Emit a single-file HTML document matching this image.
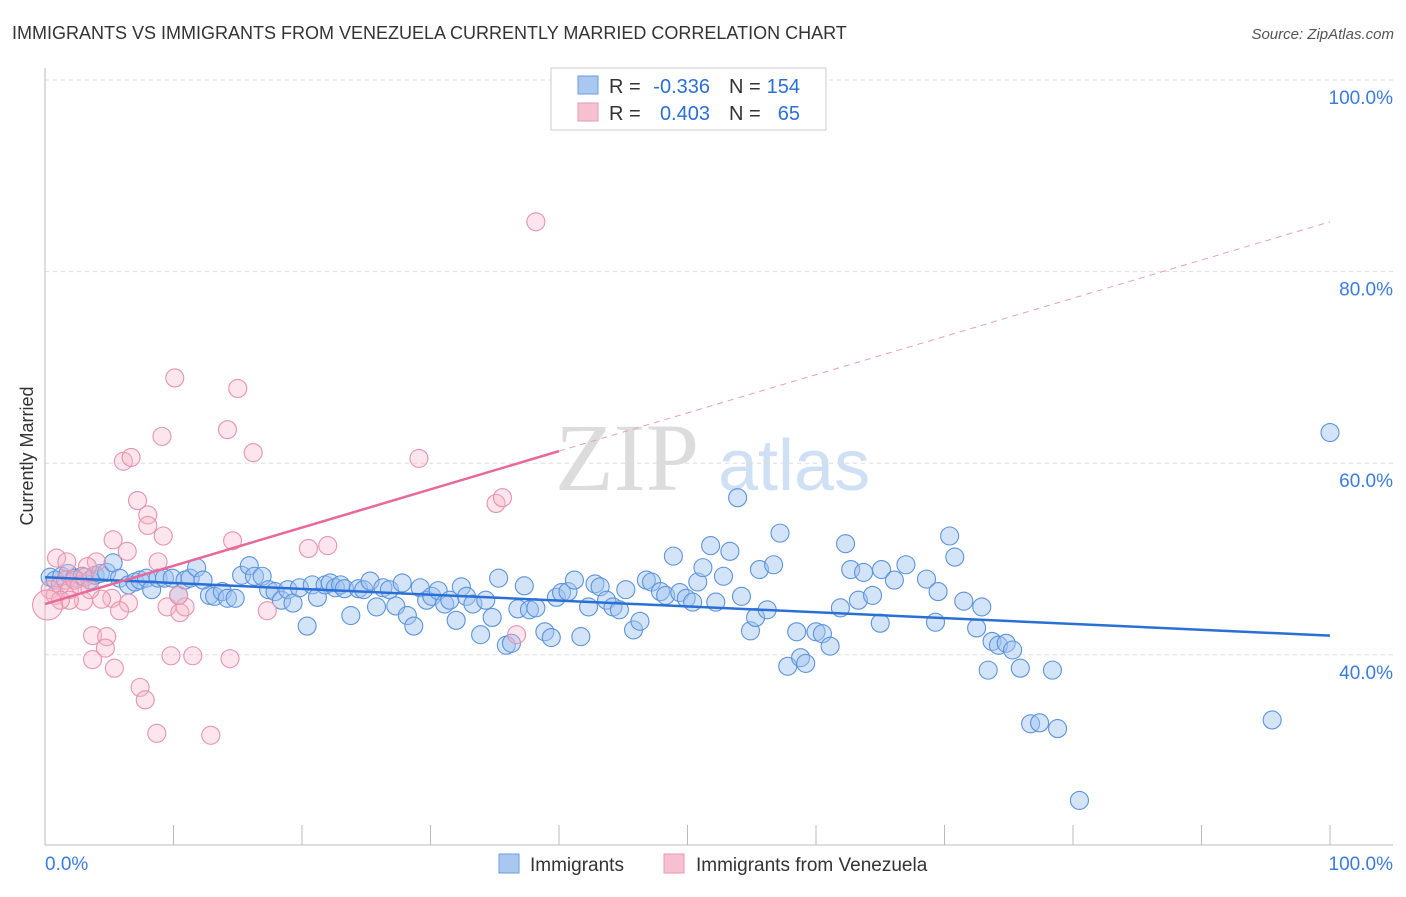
<!DOCTYPE html>
<html><head><meta charset="utf-8"><style>
body{margin:0;background:#fff;font-family:"Liberation Sans",sans-serif;}
</style></head><body>
<svg id="c" width="1406" height="892" xmlns="http://www.w3.org/2000/svg" font-family="Liberation Sans, sans-serif">
<text x="12" y="39" font-size="18" fill="#333">IMMIGRANTS VS IMMIGRANTS FROM VENEZUELA CURRENTLY MARRIED CORRELATION CHART</text>
<text x="1394" y="39" font-size="15" fill="#555" text-anchor="end" font-style="italic">Source: ZipAtlas.com</text>
<text transform="translate(33,456) rotate(-90)" font-size="18" fill="#333" text-anchor="middle">Currently Married</text>
<g>
<text x="555" y="490" font-size="96" font-family="Liberation Serif, serif" fill="#dcdcdc">ZIP</text>
<text x="718" y="490" font-size="72" fill="#cfe0f5">atlas</text>
</g>
<g id="grid"></g><g id="marks"></g><g id="lines"></g>
<g font-size="20">
<rect x="551" y="68" width="275" height="62" fill="#fff" stroke="#ccc"/>
<rect x="578" y="76" width="20" height="18" fill="#a9c8f0" stroke="#6a9de0"/>
<rect x="578" y="103" width="20" height="18" fill="#f7c0d0" stroke="#e89ab0"/>
<text x="609" y="93" fill="#333">R =</text>
<text x="710" y="93" fill="#2a6fd6" text-anchor="end">-0.336</text>
<text x="729" y="93" fill="#333">N =</text>
<text x="800" y="93" fill="#2a6fd6" text-anchor="end">154</text>
<text x="609" y="120" fill="#333">R =</text>
<text x="710" y="120" fill="#2a6fd6" text-anchor="end">0.403</text>
<text x="729" y="120" fill="#333">N =</text>
<text x="800" y="120" fill="#2a6fd6" text-anchor="end">65</text>
</g>
<g>
<rect x="499" y="854" width="20" height="19" fill="#a9c8f0" stroke="#6a9de0"/>
<text x="530" y="871" font-size="19" fill="#333">Immigrants</text>
<rect x="664" y="854" width="20" height="19" fill="#f7c0d0" stroke="#e89ab0"/>
<text x="696" y="871" font-size="19" fill="#333">Immigrants from Venezuela</text>
</g>
</svg>
<script>
const yTicks=[40,60,80,100];
const xTickVals=[0,10,20,30,40,50,60,70,80,90,100];
const blueX=[0.4,0.8,1.3,1.8,2.3,2.9,3.5,3.9,4.3,4.8,5.3,5.8,6.5,7.0,7.4,7.9,8.3,8.8,9.3,9.9,10.4,10.9,11.3,11.8,12.3,12.8,13.2,13.8,14.2,14.8,15.3,15.9,16.3,16.9,17.4,17.9,18.4,18.9,19.3,19.8,20.4,20.8,21.2,21.8,22.2,22.6,23.0,23.3,23.8,24.4,24.8,25.3,25.8,26.3,26.8,27.3,27.8,28.2,28.7,29.2,29.7,30.1,30.6,31.1,31.5,32.0,32.4,32.8,33.3,33.9,34.3,34.8,35.3,35.9,36.3,36.8,37.3,37.7,38.2,38.9,39.4,39.8,40.2,40.7,41.2,41.7,42.3,42.8,43.2,43.7,44.2,44.7,45.2,45.8,46.3,46.8,47.2,47.9,48.3,48.9,49.4,49.9,50.4,50.8,51.2,51.8,52.2,52.8,53.3,53.9,54.2,54.9,55.3,55.6,56.2,56.7,57.2,57.8,58.8,59.2,58.5,60.0,60.5,61.1,61.9,62.3,62.7,63.3,63.7,64.4,65.0,65.1,66.1,67.0,68.6,69.3,69.5,70.4,70.8,71.5,72.5,72.9,73.4,73.7,74.2,74.8,75.3,75.9,76.7,77.4,78.4,78.8,80.5,95.5,100];
const blueY=[48.1,47.8,48.2,48.5,48.0,48.2,47.8,48.3,48.5,48.6,49.6,48.0,47.3,47.6,47.8,48.0,46.8,48.0,48.0,48.0,46.2,47.8,48.0,49.1,47.8,46.2,46.1,46.6,45.9,45.9,48.3,49.3,48.2,48.2,46.8,46.6,45.7,46.8,45.4,47.0,43.0,47.3,46.0,47.3,47.5,47.0,47.3,46.9,44.1,46.9,46.8,47.7,45.0,47.0,46.8,45.1,47.5,44.1,43.0,47.0,45.7,46.1,46.7,45.3,45.7,43.6,47.1,46.1,45.3,42.1,45.7,43.9,48.0,41.0,41.2,44.8,47.2,44.7,44.9,42.4,41.8,46.0,46.5,46.6,47.8,41.9,45.0,47.4,47.1,45.7,45.0,44.7,46.8,42.6,43.5,47.8,47.6,46.6,46.2,50.3,46.5,45.9,45.5,47.6,49.1,51.4,45.5,48.2,50.8,56.4,46.1,42.5,43.9,48.9,44.7,49.4,52.7,38.8,39.7,39.1,42.4,42.4,42.2,40.9,44.9,51.6,48.9,45.7,48.6,46.2,43.3,48.9,47.8,49.4,47.9,43.4,46.6,52.4,50.2,45.6,42.8,45.0,38.4,41.4,41.0,41.2,40.5,38.6,32.8,32.9,38.4,32.3,24.8,33.2,63.2];
const pinkX=[10.1,15.0,9.1,14.2,16.2,6.1,6.7,29.1,7.2,8.0,8.0,9.2,35.1,35.6,5.3,6.4,14.6,20.5,22.0,8.8,0.9,1.7,4.0,3.3,5.2,4.4,3.0,6.5,5.8,9.5,10.5,10.9,17.3,3.7,4.8,4.7,3.7,5.4,9.8,11.5,14.4,7.4,7.8,8.7,12.9,36.7,10.4,38.2,0.4,0.8,1.2,1.6,1.9,2.3,2.7,3.1,3.5,1.9,1.2,0.2];
const pinkY=[68.9,67.8,62.8,63.5,61.1,60.2,60.6,60.5,56.1,54.6,53.5,52.4,55.8,56.4,52.0,50.8,51.9,51.1,51.4,49.7,50.1,49.7,49.7,49.2,45.9,45.8,45.6,45.4,44.6,45.0,44.4,45.0,44.6,42.0,41.9,40.7,39.5,38.6,39.9,39.9,39.6,36.6,35.3,31.8,31.6,42.1,46.2,85.2,46.8,46.2,47.3,47.8,46.8,47.8,47.3,48.1,46.8,45.7,45.7,45.2];
const blueTrend=[48.1,42.0];
const pinkTrend=[45.3,85.2];
const pinkSolidEnd=40;
const NS='http://www.w3.org/2000/svg';
const X=v=>45+v*12.85, Y=v=>1038-v*9.58;
function mk(t,a,p){const e=document.createElementNS(NS,t);for(const k in a)e.setAttribute(k,a[k]);p.appendChild(e);return e;}
const grid=document.getElementById('grid'),marks=document.getElementById('marks'),lines=document.getElementById('lines');
yTicks.forEach(t=>{
 const l=mk('line',{x1:45,x2:1393,y1:Y(t),y2:Y(t),stroke:'#ddd','stroke-dasharray':'4,4'},grid);
 
 
 const tx=mk('text',{x:1393,y:Y(t)+24,'font-size':19,fill:'#3a7be0','text-anchor':'end'},grid);
 tx.textContent=t.toFixed(1)+'%';
 
 
});
const ax=mk('line',{x1:45,x2:45,y1:68,y2:845,stroke:'#bbb'},grid);


const bx=mk('line',{x1:45,x2:1393,y1:845,y2:845,stroke:'#bbb'},grid);


xTickVals.forEach(t=>{
 const l=mk('line',{x1:X(t),x2:X(t),y1:825,y2:845,stroke:'#bbb'},grid);
 
 
});
[[0,'start',45],[100,'end',1393]].forEach(([v,a,x])=>{
 const tx=mk('text',{x:x,y:870,'font-size':19,fill:'#3a7be0','text-anchor':a},grid);
 tx.textContent=v.toFixed(1)+'%';
 
 
});
blueX.forEach((v,i)=>{
 const c=mk('circle',{cx:X(v),cy:Y(blueY[i]),r:9,fill:'rgba(160,196,240,0.45)',stroke:'#5b93dd','stroke-width':1.1},marks);
 
 
});
pinkX.forEach((v,i)=>{
 const c=mk('circle',{cx:X(v),cy:Y(pinkY[i]),r:(i==pinkX.length-1?15:9),fill:'rgba(245,180,200,0.35)',stroke:'#e693ad','stroke-width':1.1},marks);
 
 
});
const bl=mk('line',{x1:X(0),y1:Y(blueTrend[0]),x2:X(100),y2:Y(blueTrend[1]),stroke:'#2a6fd6','stroke-width':2.5},lines);


const py=v=>pinkTrend[0]+(pinkTrend[1]-pinkTrend[0])*v/100;
const pl=mk('line',{x1:X(0),y1:Y(py(0)),x2:X(pinkSolidEnd),y2:Y(py(pinkSolidEnd)),stroke:'#e8689a','stroke-width':2.5},lines);


const pd=mk('line',{x1:X(pinkSolidEnd),y1:Y(py(pinkSolidEnd)),x2:X(100),y2:Y(py(100)),stroke:'#eaa0b8','stroke-width':1,'stroke-dasharray':'6,5'},lines);


</script>
</body></html>
